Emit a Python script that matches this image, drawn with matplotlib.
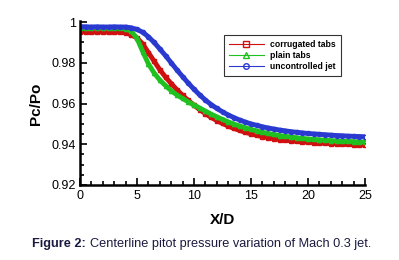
import numpy as np
import matplotlib
matplotlib.use('Agg')
import matplotlib.pyplot as plt
from matplotlib.ticker import MultipleLocator

plt.rcParams['font.family'] = ['Liberation Sans', 'DejaVu Sans']

xd = np.arange(0, 25.01, 0.5)

corrugated = [0.9953, 0.9952, 0.9951, 0.9952, 0.9951, 0.9951, 0.9952, 0.9951,
              0.9947, 0.9938, 0.9922, 0.9893, 0.9850, 0.9808, 0.9766, 0.9730,
              0.9698, 0.9668, 0.9640, 0.9615, 0.9592, 0.9570, 0.9550, 0.9532,
              0.9516, 0.9502, 0.9489, 0.9478, 0.9468, 0.9459, 0.9451, 0.9444,
              0.9438, 0.9432, 0.9427, 0.9423, 0.9420, 0.9417, 0.9414, 0.9412,
              0.9410, 0.9408, 0.9406, 0.9405, 0.9403, 0.9402, 0.9400, 0.9399,
              0.9398, 0.9397, 0.9396]

plain = [0.9972, 0.9972, 0.9973, 0.9972, 0.9972, 0.9971, 0.9972, 0.9972,
         0.9968, 0.9955, 0.9920, 0.9855, 0.9795, 0.9750, 0.9715, 0.9688,
         0.9663, 0.9642, 0.9625, 0.9608, 0.9593, 0.9578, 0.9563, 0.9548,
         0.9535, 0.9522, 0.9510, 0.9499, 0.9490, 0.9481, 0.9473, 0.9466,
         0.9459, 0.9453, 0.9448, 0.9443, 0.9439, 0.9436, 0.9432, 0.9429,
         0.9426, 0.9424, 0.9422, 0.9420, 0.9418, 0.9417, 0.9415, 0.9414,
         0.9413, 0.9412, 0.9411]

uncontrolled = [0.9978, 0.9977, 0.9976, 0.9977, 0.9976, 0.9976, 0.9977, 0.9976,
                0.9976, 0.9972, 0.9964, 0.9950, 0.9928, 0.9900, 0.9868, 0.9835,
                0.9800, 0.9765, 0.9732, 0.9700, 0.9670, 0.9642, 0.9617, 0.9595,
                0.9576, 0.9559, 0.9544, 0.9531, 0.9519, 0.9509, 0.9500, 0.9493,
                0.9486, 0.9480, 0.9475, 0.9470, 0.9466, 0.9462, 0.9459, 0.9456,
                0.9453, 0.9451, 0.9449, 0.9447, 0.9445, 0.9443, 0.9442, 0.9440,
                0.9439, 0.9438, 0.9437]

labels = ['corrugated tabs', 'plain tabs', 'uncontrolled jet']

fig = plt.figure(figsize=(3.99, 2.60), dpi=100)
ax = fig.add_axes([0.2005, 0.2885, 0.7145, 0.6265])

ax.plot(xd, corrugated, color='#d01010', lw=3.5, marker='s', ms=3,
        mfc='none', mew=1, label=labels[0])
ax.plot(xd, plain, color='#20c020', lw=3.5, marker='^', ms=3,
        mfc='none', mew=1, label=labels[1])
ax.plot(xd, uncontrolled, color='#2a3ad0', lw=3.5, marker='o', ms=3,
        mfc='none', mew=1, label=labels[2])

ax.set_xlim(0, 25)
ax.set_ylim(0.92, 1.0)
ax.set_xticks([0, 5, 10, 15, 20, 25])
ax.set_yticks([0.92, 0.94, 0.96, 0.98, 1.0])
ax.set_yticklabels(['0.92', '0.94', '0.96', '0.98', '1'])
ax.xaxis.set_minor_locator(MultipleLocator(1))
ax.yaxis.set_minor_locator(MultipleLocator(0.005))
ax.tick_params(which='both', direction='in', labelsize=9, width=1.2)
ax.tick_params(which='major', length=5)
ax.tick_params(which='minor', length=3)
ax.tick_params(axis='y', pad=3)
ax.spines['top'].set_visible(False)
ax.spines['right'].set_visible(False)
ax.spines['left'].set_linewidth(1.8)
ax.spines['bottom'].set_linewidth(1.8)
ax.spines['left'].set_bounds(0.92, 1.0005)

ax.set_xlabel('X/D', fontsize=11, fontweight='bold', labelpad=8)
ax.set_ylabel('Pc/Po', fontsize=11, fontweight='bold', labelpad=6)

leg = ax.legend(loc='upper left', bbox_to_anchor=(0.49, 0.95),
                prop={'weight': 'bold', 'size': 6.2},
                frameon=True, fancybox=False, edgecolor='black',
                handlelength=4, handletextpad=0.8, borderpad=0.6,
                labelspacing=0.25, numpoints=1)
leg.get_frame().set_linewidth(0.8)
for h in leg.get_lines():
    h.set_linewidth(0.8)
    h.set_markersize(4)

t1 = fig.text(0.08, 0.05, 'Figure 2:', fontsize=9.2, fontweight='bold',
              color='#1a1a40')
fig.canvas.draw()
bb = t1.get_window_extent().transformed(fig.transFigure.inverted())
fig.text(bb.x1 + 0.01, 0.05,
         'Centerline pitot pressure variation of Mach 0.3 jet.',
         fontsize=9.2, color='#1a1a40')

fig.savefig('out.png', dpi=100)
